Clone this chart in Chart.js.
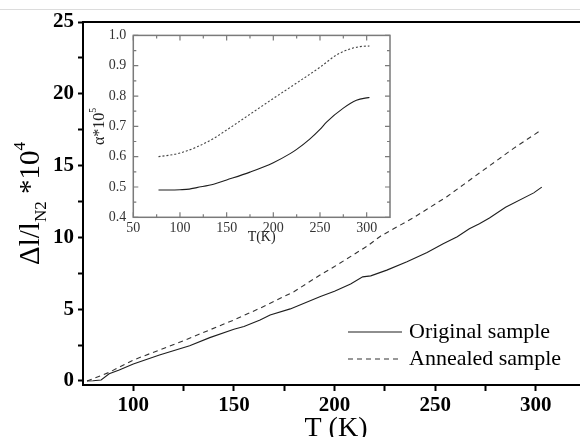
<!DOCTYPE html>
<html>
<head>
<meta charset="utf-8">
<script src="https://cdn.jsdelivr.net/npm/chart.js@4.4.0/dist/chart.umd.min.js"></script>
<style>
	html, body { margin: 0; padding: 0; background: #fff; overflow: hidden; }
	#wrap { position: relative; width: 580px; height: 437px; }
	#topline { position: absolute; left: 0; top: 9px; width: 580px; height: 1px; background: #dcdcdc; }
	#main { position: absolute; left: 0; top: 0; }
	#inset { position: absolute; left: 85px; top: 20px; }
</style>
</head>
<body>
<div id="wrap">
	<div id="topline"></div>
	<canvas id="main" width="580" height="437"></canvas>
	<canvas id="inset" width="315" height="225"></canvas>
</div>
<script>
// main plot: relative elongation vs temperature
const origT = [77, 80, 84, 88, 93, 100, 113, 128, 138, 150, 155, 163, 168, 178, 193, 200, 208, 214, 218, 226, 236, 246, 254, 261, 267, 272, 277, 285, 299, 303]
const origDL = [0, 0.02, 0.07, 0.5, 0.77, 1.18, 1.81, 2.46, 3.02, 3.6, 3.79, 4.25, 4.6, 5.02, 5.88, 6.25, 6.76, 7.25, 7.32, 7.72, 8.3, 8.95, 9.55, 10.05, 10.6, 10.95, 11.35, 12.1, 13.1, 13.5]
const annT = [77, 88, 100, 113, 126, 138, 150, 163, 180, 193, 200, 216, 223, 239, 256, 272, 289, 303]
const annDL = [0, 0.6, 1.46, 2.16, 2.86, 3.56, 4.25, 5.07, 6.23, 7.4, 7.97, 9.37, 10.1, 11.35, 12.85, 14.48, 16.2, 17.5]

// inset: expansion coefficient
const insetOrigT = [77, 90, 100, 110, 118, 136, 150, 175, 200, 218, 225, 239, 250, 257, 275, 289, 300, 303]
const insetOrigA = [0.49, 0.49, 0.491, 0.493, 0.498, 0.509, 0.523, 0.549, 0.58, 0.61, 0.624, 0.658, 0.69, 0.714, 0.76, 0.786, 0.794, 0.795]
const insetAnnT = [77, 89, 100, 118, 136, 150, 175, 200, 225, 250, 268, 282, 293, 303]
const insetAnnA = [0.6, 0.605, 0.612, 0.632, 0.66, 0.688, 0.74, 0.792, 0.843, 0.895, 0.936, 0.955, 0.963, 0.965]

// ticks
const mainXTicks = [100, 125, 150, 175, 200, 225, 250, 275, 300]
const mainXLabels = [100, 150, 200, 250, 300]
const mainYTicks = [0, 2.5, 5, 7.5, 10, 12.5, 15, 17.5, 20, 22.5, 25]
const mainYLabels = [0, 5, 10, 15, 20, 25]
const insetXMajor = [50, 100, 150, 200, 250, 300]
const insetXMinor = [75, 125, 175, 225, 275]
const insetYMajor = [0.4, 0.5, 0.6, 0.7, 0.8, 0.9, 1.0]
const insetYMinor = [0.45, 0.55, 0.65, 0.75, 0.85, 0.95]

const serif = '"Liberation Serif", "Times New Roman", serif'

function pts(xs, ys) {
	return xs.map((x, i) => ({ x: x, y: ys[i] }))
}

function drawParts(ctx, parts, family) {
	let total = 0
	parts.forEach(p => {
		ctx.font = p.size + 'px ' + family
		p.w = ctx.measureText(p.t).width
		total += p.w
	})
	let x = -total / 2
	parts.forEach(p => {
		ctx.font = p.size + 'px ' + family
		ctx.fillText(p.t, x, p.dy)
		x += p.w
	})
}

const mainTitles = {
	id: 'mainTitles',
	afterDraw(chart) {
		const ctx = chart.ctx
		const a = chart.chartArea
		ctx.save()
		ctx.fillStyle = '#000'
		ctx.textBaseline = 'alphabetic'
		ctx.textAlign = 'left'
		ctx.font = '28px ' + serif
		let w = ctx.measureText('T (K)').width
		ctx.fillText('T (K)', 336 - w / 2, 436)

		ctx.translate(39, (a.top + a.bottom) / 2)
		ctx.rotate(-Math.PI / 2)
		drawParts(ctx, [
			{ t: '\u0394l/l', size: 29, dy: 0 },
			{ t: 'N2', size: 17, dy: 7 },
			{ t: ' *10', size: 29, dy: 0 },
			{ t: '4', size: 17, dy: -14 },
		], serif)
		ctx.restore()

		// legend
		ctx.save()
		const rows = [338, 365]
		chart.data.datasets.forEach((ds, i) => {
			ctx.strokeStyle = ds.borderColor
			ctx.lineWidth = ds.borderWidth
			ctx.setLineDash(ds.borderDash || [])
			ctx.beginPath()
			ctx.moveTo(348, rows[i] - 6)
			ctx.lineTo(402, rows[i] - 6)
			ctx.stroke()
			ctx.setLineDash([])
			ctx.fillStyle = '#000'
			ctx.font = '22px ' + serif
			ctx.textBaseline = 'alphabetic'
			ctx.fillText(ds.label, 409, rows[i])
		})
		ctx.restore()
	},
}

new Chart(document.getElementById('main'), {
	type: 'line',
	data: {
		datasets: [
			{
				label: 'Original sample',
				data: pts(origT, origDL),
				borderColor: '#1e1e1e',
				borderWidth: 1.1,
				pointRadius: 0,
				fill: false,
			},
			{
				label: 'Annealed sample',
				data: pts(annT, annDL),
				borderColor: '#333',
				borderWidth: 1.1,
				borderDash: [5, 4],
				pointRadius: 0,
				fill: false,
			},
		],
	},
	options: {
		responsive: false,
		animation: false,
		events: [],
		layout: { padding: { top: 22, right: 0, left: 0, bottom: 0 } },
		plugins: { legend: { display: false }, tooltip: { enabled: false } },
		scales: {
			x: {
				type: 'linear',
				position: 'bottom',
				min: 75,
				max: 322,
				afterFit: s => { s.height = 52 },
				afterBuildTicks: s => { s.ticks = mainXTicks.map(v => ({ value: v })) },
				grid: { drawOnChartArea: false, tickLength: 6, tickWidth: 2, tickColor: '#000' },
				border: { color: '#000', width: 2 },
				ticks: {
					font: { family: serif, size: 21, weight: 'bold' },
					color: '#000',
					padding: 2,
					maxRotation: 0,
					autoSkip: false,
					callback: v => (mainXLabels.includes(v) ? String(v) : ''),
				},
			},
			xTop: {
				type: 'linear',
				position: 'top',
				min: 75,
				max: 322,
				afterFit: s => { s.height = 0 },
				grid: { drawOnChartArea: false, drawTicks: false },
				border: { color: '#000', width: 2 },
				ticks: { display: false },
			},
			y: {
				type: 'linear',
				position: 'left',
				min: -0.28,
				max: 25,
				afterFit: s => { s.width = 83 },
				afterBuildTicks: s => { s.ticks = mainYTicks.map(v => ({ value: v })) },
				grid: { drawOnChartArea: false, tickLength: 5, tickWidth: 2, tickColor: '#000' },
				border: { color: '#000', width: 2 },
				ticks: {
					font: { family: serif, size: 21, weight: 'bold' },
					color: '#000',
					padding: 4,
					autoSkip: false,
					callback: v => (mainYLabels.includes(v) ? String(v) : ''),
				},
			},
		},
	},
	plugins: [mainTitles],
})

// inset frame with inward ticks on four sides, and its titles
const insetFrame = {
	id: 'insetFrame',
	afterDraw(chart) {
		const ctx = chart.ctx
		const a = chart.chartArea
		const sx = chart.scales.x
		const sy = chart.scales.y
		ctx.save()
		ctx.strokeStyle = '#7a7a7a'
		ctx.lineWidth = 1.5
		ctx.strokeRect(a.left, a.top, a.right - a.left, a.bottom - a.top)
		ctx.lineWidth = 1.2
		ctx.beginPath()
		const tx = (v, len) => {
			let p = sx.getPixelForValue(v)
			ctx.moveTo(p, a.bottom); ctx.lineTo(p, a.bottom - len)
			ctx.moveTo(p, a.top); ctx.lineTo(p, a.top + len)
		}
		const ty = (v, len) => {
			let p = sy.getPixelForValue(v)
			ctx.moveTo(a.left, p); ctx.lineTo(a.left + len, p)
			ctx.moveTo(a.right, p); ctx.lineTo(a.right - len, p)
		}
		insetXMajor.forEach(v => tx(v, 5))
		insetXMinor.forEach(v => tx(v, 3))
		insetYMajor.forEach(v => ty(v, 5))
		insetYMinor.forEach(v => ty(v, 3))
		ctx.stroke()

		ctx.fillStyle = '#222'
		ctx.textBaseline = 'alphabetic'
		ctx.textAlign = 'left'
		ctx.font = '14px ' + serif
		let w = ctx.measureText('T(K)').width
		ctx.fillText('T(K)', (a.left + a.right) / 2 - w / 2, 221)

		ctx.translate(19, (a.top + a.bottom) / 2)
		ctx.rotate(-Math.PI / 2)
		drawParts(ctx, [
			{ t: '\u03b1*10', size: 16, dy: 0 },
			{ t: '5', size: 10, dy: -8 },
		], serif)
		ctx.restore()
	},
}

new Chart(document.getElementById('inset'), {
	type: 'line',
	data: {
		datasets: [
			{
				label: 'Original sample',
				data: pts(insetOrigT, insetOrigA),
				borderColor: '#1e1e1e',
				borderWidth: 1.1,
				pointRadius: 0,
				cubicInterpolationMode: 'monotone',
				fill: false,
			},
			{
				label: 'Annealed sample',
				data: pts(insetAnnT, insetAnnA),
				borderColor: '#444',
				borderWidth: 1.1,
				borderDash: [2, 2],
				pointRadius: 0,
				cubicInterpolationMode: 'monotone',
				fill: false,
			},
		],
	},
	options: {
		responsive: false,
		animation: false,
		events: [],
		layout: { padding: { top: 10, right: 10, left: 0, bottom: 0 } },
		plugins: { legend: { display: false }, tooltip: { enabled: false } },
		scales: {
			x: {
				type: 'linear',
				min: 50,
				max: 325,
				afterFit: s => { s.height = 27.7 },
				afterBuildTicks: s => { s.ticks = insetXMajor.map(v => ({ value: v })) },
				grid: { display: false, drawTicks: false },
				border: { display: false },
				ticks: {
					font: { family: serif, size: 14 },
					color: '#333',
					padding: 3,
					maxRotation: 0,
					autoSkip: false,
				},
			},
			y: {
				type: 'linear',
				min: 0.4,
				max: 1.0,
				afterFit: s => { s.width = 48.3 },
				afterBuildTicks: s => { s.ticks = insetYMajor.map(v => ({ value: v })) },
				grid: { display: false, drawTicks: false },
				border: { display: false },
				ticks: {
					font: { family: serif, size: 14 },
					color: '#333',
					padding: 7,
					autoSkip: false,
					callback: v => v.toFixed(1),
				},
			},
		},
	},
	plugins: [insetFrame],
})
</script>
</body>
</html>
